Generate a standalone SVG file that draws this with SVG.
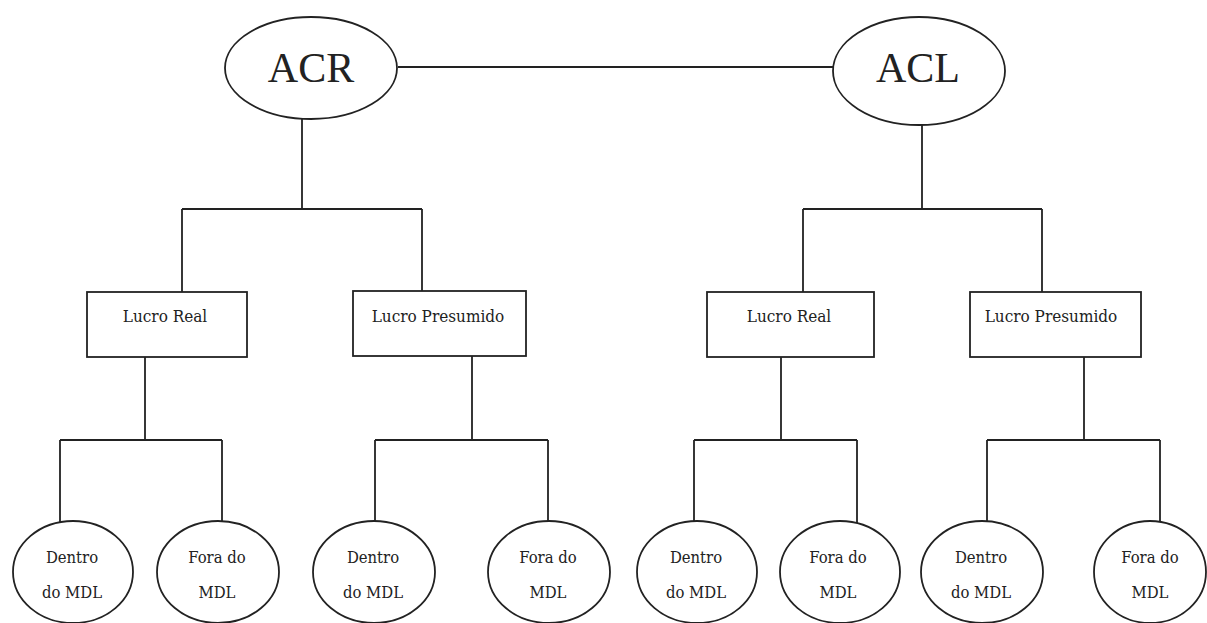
<svg xmlns="http://www.w3.org/2000/svg" width="1207" height="623" viewBox="0 0 1207 623" font-family="'Liberation Serif', 'Times New Roman', serif">
<style>
.s{fill:#fff;stroke:#222;stroke-width:1.8}
.c{fill:none;stroke:#222;stroke-width:1.8}
text{fill:#222;text-anchor:middle}
.big{font-family:'Liberation Serif','Times New Roman',serif;font-size:42px}
.box{font-family:'DejaVu Serif',serif;font-stretch:condensed;font-size:17px}
.leaf{font-family:'DejaVu Serif',serif;font-stretch:condensed;font-size:16.5px}
</style>
<rect width="1207" height="623" fill="#fff"/>
<g id="connectors">
<path class="c" d="M398 67H833"/>
<path class="c" d="M302 119V209M182 209H422M182 209V292M422 209V292"/>
<path class="c" d="M922 125V209M803 209H1042M803 209V292M1042 209V292"/>
<path class="c" d="M145 357V440M60 440H222M60 440V523M222 440V523"/>
<path class="c" d="M472 356V440M375 440H548M375 440V523M548 440V523"/>
<path class="c" d="M781 357V440M694 440H857M694 440V523M857 440V530"/>
<path class="c" d="M1084 357V440M987 440H1160M987 440V523M1160 440V525"/>
</g>
<g id="acr"><ellipse class="s" cx="311" cy="68" rx="86" ry="51"/><text class="big" x="311" y="82">ACR</text></g>
<g id="acl"><ellipse class="s" cx="919" cy="71" rx="86" ry="54"/><text class="big" x="918" y="82">ACL</text></g>
<g id="lr1"><rect class="s" x="87" y="292" width="160" height="65"/><text class="box" x="165" y="322">Lucro Real</text></g>
<g id="lp1"><rect class="s" x="353" y="291" width="173" height="65"/><text class="box" x="438" y="322">Lucro Presumido</text></g>
<g id="lr2"><rect class="s" x="707" y="292" width="167" height="65"/><text class="box" x="789" y="322">Lucro Real</text></g>
<g id="lp2"><rect class="s" x="970" y="292" width="171" height="65"/><text class="box" x="1051" y="322">Lucro Presumido</text></g>
<g id="d1"><ellipse class="s" cx="73" cy="572" rx="60" ry="51"/><text class="leaf" x="72" y="563">Dentro</text><text class="leaf" x="72" y="598">do MDL</text></g>
<g id="f1"><ellipse class="s" cx="218" cy="572" rx="61" ry="51"/><text class="leaf" x="217" y="563">Fora do</text><text class="leaf" x="217" y="598">MDL</text></g>
<g id="d2"><ellipse class="s" cx="374" cy="572" rx="61" ry="51"/><text class="leaf" x="373" y="563">Dentro</text><text class="leaf" x="373" y="598">do MDL</text></g>
<g id="f2"><ellipse class="s" cx="549" cy="572" rx="61" ry="51"/><text class="leaf" x="548" y="563">Fora do</text><text class="leaf" x="548" y="598">MDL</text></g>
<g id="d3"><ellipse class="s" cx="697" cy="572" rx="60" ry="51"/><text class="leaf" x="696" y="563">Dentro</text><text class="leaf" x="696" y="598">do MDL</text></g>
<g id="f3"><ellipse class="s" cx="840" cy="572" rx="60" ry="51"/><text class="leaf" x="838" y="563">Fora do</text><text class="leaf" x="838" y="598">MDL</text></g>
<g id="d4"><ellipse class="s" cx="982" cy="572" rx="61" ry="51"/><text class="leaf" x="981" y="563">Dentro</text><text class="leaf" x="981" y="598">do MDL</text></g>
<g id="f4"><ellipse class="s" cx="1150" cy="572" rx="56" ry="51"/><text class="leaf" x="1150" y="563">Fora do</text><text class="leaf" x="1150" y="598">MDL</text></g>
</svg>
